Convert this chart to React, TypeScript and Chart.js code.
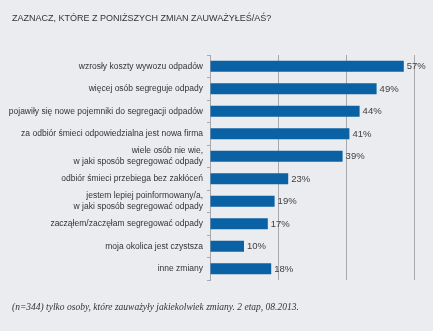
import React, { useEffect, useRef } from "react";
import { Chart, registerables } from "chart.js";

Chart.register(...registerables);

const TITLE = "ZAZNACZ, KTÓRE Z PONIŻSZYCH ZMIAN ZAUWAŻYŁEŚ/AŚ?";
const FOOTNOTE = "(n=344) tylko osoby, które zauważyły jakiekolwiek zmiany. 2 etap, 08.2013.";

const categories: (string | string[])[] = [
  "wzrosły koszty wywozu odpadów",
  "więcej osób segreguje odpady",
  "pojawiły się nowe pojemniki do segregacji odpadów",
  "za odbiór śmieci odpowiedzialna jest nowa firma",
  ["wiele osób nie wie,", "w jaki sposób segregować odpady"],
  "odbiór śmieci przebiega bez zakłóceń",
  ["jestem lepiej poinformowany/a,", "w jaki sposób segregować odpady"],
  "zacząłem/zaczęłam segregować odpady",
  "moja okolica jest czystsza",
  "inne zmiany",
];

const values: number[] = [57, 49, 44, 41, 39, 23, 19, 17, 10, 18];

const xTicks: number[] = [0, 20, 40, 60];

const BG = "#EBECF0";
const BAR = "#0A62A5";
const GRID = "#A9A9AD";
const TEXT = "#333333";
const SANS = "'Liberation Sans', Arial, sans-serif";
const SERIF = "'Liberation Serif', 'Times New Roman', serif";

const valueLabels = {
  id: "valueLabels",
  afterDatasetsDraw(chart: any) {
    const ctx = chart.ctx;
    const meta = chart.getDatasetMeta(0);
    ctx.save();
    ctx.font = `9.5px ${SANS}`;
    ctx.fillStyle = "#404040";
    ctx.textAlign = "left";
    ctx.textBaseline = "middle";
    meta.data.forEach((bar: any, i: number) => {
      ctx.fillText(`${values[i]}%`, bar.x + 3, bar.y + 0.5);
    });
    ctx.restore();
  },
};

export default function App() {
  const ref = useRef<HTMLCanvasElement | null>(null);

  useEffect(() => {
    if (!ref.current) return;
    const chart = new Chart(ref.current, {
      type: "bar",
      data: {
        labels: categories,
        datasets: [
          {
            data: values,
            backgroundColor: BAR,
            borderWidth: 0,
            barPercentage: 0.49,
            categoryPercentage: 1,
          },
        ],
      },
      options: {
        indexAxis: "y",
        responsive: false,
        animation: false,
        layout: { padding: { left: 0, right: 19, top: 55, bottom: 51 } },
        plugins: {
          legend: { display: false },
          tooltip: { enabled: false },
          title: { display: false },
        },
        scales: {
          x: {
            type: "linear",
            min: 0,
            max: 60,
            afterBuildTicks: (s: any) => {
              s.ticks = xTicks.map((v) => ({ value: v }));
            },
            ticks: { display: false },
            grid: { color: GRID, drawTicks: false, lineWidth: 1 },
            border: { display: false },
            afterFit: (s: any) => {
              s.height = 0;
            },
          },
          y: {
            type: "category",
            offset: true,
            ticks: {
              color: TEXT,
              padding: 4,
              autoSkip: false,
              font: { family: SANS, size: 8.5, lineHeight: 1.35 },
            },
            grid: {
              offset: true,
              drawOnChartArea: false,
              drawTicks: true,
              tickLength: 3,
              color: GRID,
            },
            border: { display: true, color: GRID },
            afterFit: (s: any) => {
              s.width = 210;
            },
          },
        },
      },
      plugins: [valueLabels],
    });
    return () => chart.destroy();
  }, []);

  return (
    <div
      style={{
        position: "absolute",
        left: 0,
        top: 0,
        width: 433,
        height: 331,
        background: BG,
      }}
    >
      <canvas ref={ref} width={433} height={331} style={{ display: "block" }} />
      <div
        style={{
          position: "absolute",
          left: 12,
          top: 12.5,
          font: `9px ${SANS}`,
          lineHeight: "11px",
          color: TEXT,
          whiteSpace: "nowrap",
        }}
      >
        {TITLE}
      </div>
      <div
        style={{
          position: "absolute",
          left: 12,
          top: 301.5,
          font: `italic 9.5px ${SERIF}`,
          lineHeight: "11px",
          color: TEXT,
          whiteSpace: "nowrap",
        }}
      >
        {FOOTNOTE}
      </div>
    </div>
  );
}
